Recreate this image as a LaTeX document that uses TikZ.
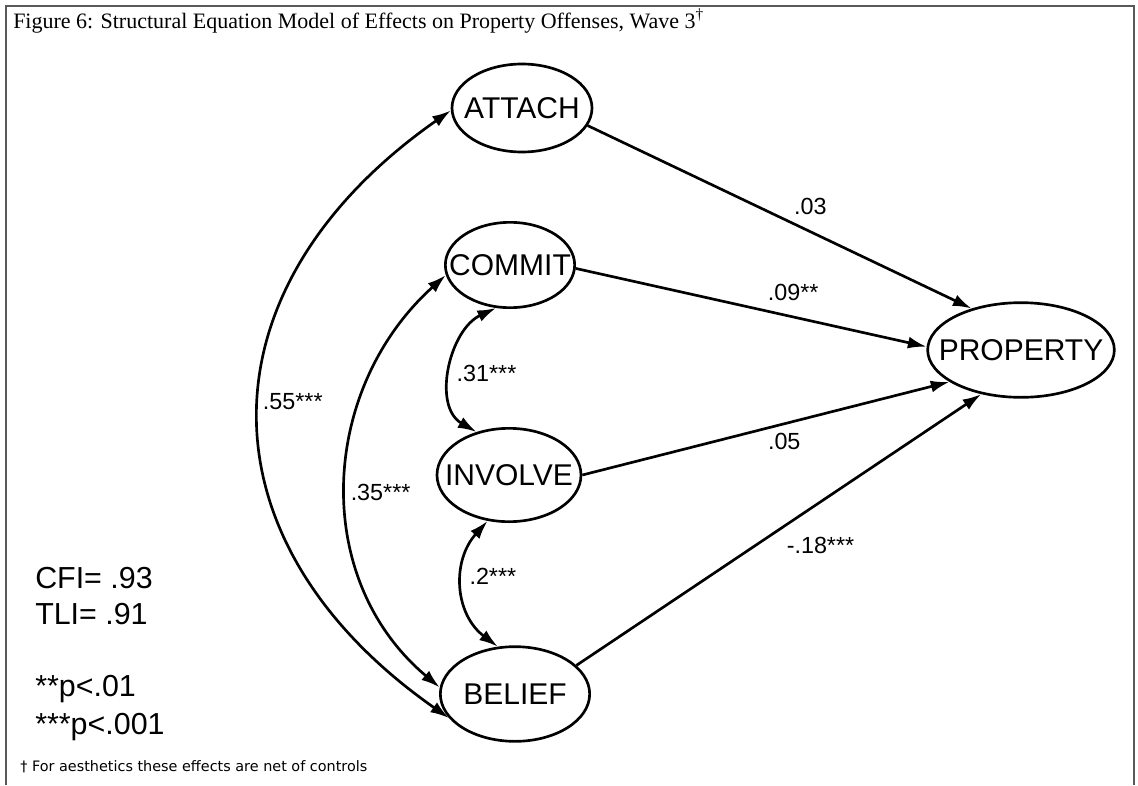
\documentclass[tikz,border=0pt]{standalone}
\usepackage{fontspec}
\setmainfont{Liberation Serif}
\setsansfont{Liberation Sans}
\newfontfamily\notefont{DejaVu Sans}
\usetikzlibrary{shapes.geometric, arrows.meta, positioning}

\newcommand{\fac}[1]{\makebox[0pt]{#1}}

\begin{document}
\begin{tikzpicture}[x=0.75pt, y=0.75pt,
	factor/.style={ellipse, draw, line width=2pt, inner sep=0pt, font=\sffamily\fontsize{22.5}{24}\selectfont},
	coef/.style={font=\sffamily\fontsize{17.5}{19}\selectfont, inner sep=0pt},
	effect/.style={-{Latex[length=14pt, width=9pt]}, line width=2pt},
	covar/.style={{Latex[length=14pt, width=9pt]}-{Latex[length=14pt, width=9pt]}, line width=2pt}]
	\useasboundingbox (0,0) rectangle (1138,-785);
	\draw [line width=1.5pt, black!65] (6,-785) -- (6,-6) -- (1134,-6) -- (1134,-785);

	\node (title) [anchor=base west, inner sep=0pt, font=\fontsize{16.5}{18}\selectfont] at (13,-28) {Figure 6: Structural Equation Model of Effects on Property Offenses, Wave 3\textsuperscript{†}};

	\node (attach) [factor, minimum width=105pt, minimum height=66pt] at (522,-108) {\fac{ATTACH}};
	\node (commit) [factor, minimum width=97pt, minimum height=64pt] at (510,-265) {\fac{COMMIT}};
	\node (involve) [factor, minimum width=108pt, minimum height=70pt] at (509,-475) {\fac{INVOLVE}};
	\node (belief) [factor, minimum width=112pt, minimum height=71pt] at (515,-694) {\fac{BELIEF}};
	\node (property) [factor, minimum width=140pt, minimum height=71pt] at (1021,-350) {\fac{PROPERTY}};

	\path [effect]
		(attach.-15) edge node [coef, above=12pt, pos=0.58] {.03} (property.140)
		(commit.-3) edge node [coef, above=11pt, pos=0.62] {.09**} (property.178)
		(involve.east) edge node [coef, below=6pt, pos=0.55] {.05} (property.204)
		(belief.25) edge node [coef, below right=7pt, pos=0.5] {-.18***} (property.228);

	\path [covar]
		(attach.182) edge [out=215, in=145, looseness=1.3] node [coef, right=1pt, pos=0.48] {.55***} (belief.200)
		(commit.189) edge [out=222, in=140, looseness=1.05] node [coef, right=2pt, pos=0.52] {.35***} (belief.175)
		(commit.252) edge [out=205, in=150, looseness=1.05] node [coef, right=3pt, pos=0.53] {.31***} (involve.127)
		(involve.245) edge [out=228, in=143, looseness=1.1] node [coef, right=4pt, pos=0.42] {.2***} (belief.110);

	\node (fit) [anchor=west, align=left, inner sep=0pt, font=\sffamily\fontsize{22.8}{27}\selectfont] at (35,-596) {CFI= .93\\TLI= .91};
	\node (sig) [anchor=west, align=left, inner sep=0pt, font=\sffamily\fontsize{22.8}{29}\selectfont] at (35,-708) {**p<.01\\***p<.001};

	\node (note) [anchor=west, inner sep=0pt, font=\notefont\fontsize{10.8}{12}\selectfont] at (20,-767) {† For aesthetics these effects are net of controls};
\end{tikzpicture}
\end{document}
